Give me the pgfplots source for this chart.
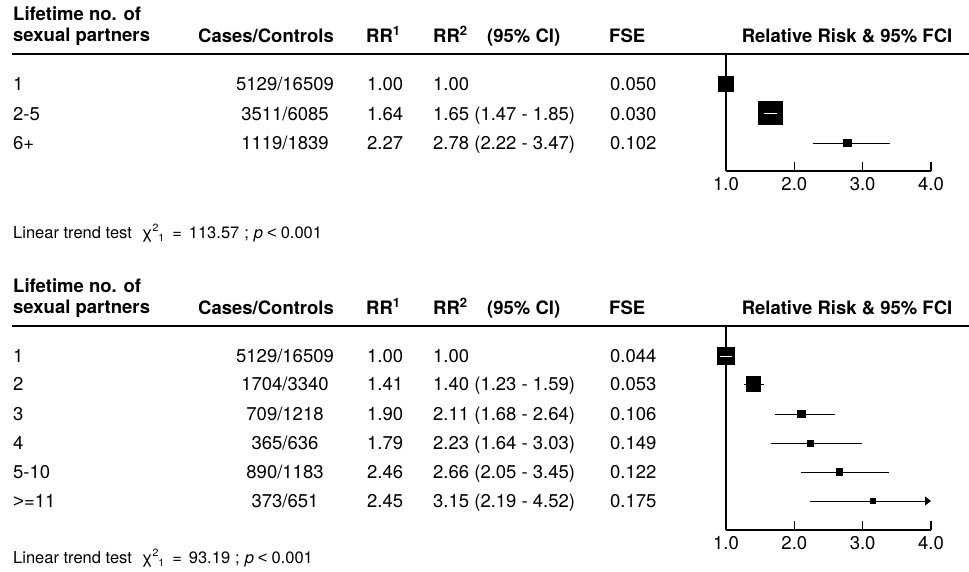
\documentclass[border=0pt]{standalone}
\usepackage{pgfplots}
\pgfplotsset{compat=1.18}
\usepackage{fontspec}
\setmainfont{TeX Gyre Heros}
\newfontfamily\lib{Liberation Sans}
\usetikzlibrary{arrows.meta}

\newcommand{\fs}{\fontsize{18.5}{22}\selectfont}
\newcommand{\ft}{\fontsize{16.5}{20}\selectfont}
\newcommand{\chisq}{χ\raisebox{6.5pt}{\fontsize{10.5}{12}\selectfont 2}\raisebox{-3pt}{\fontsize{10.5}{12}\selectfont 1}}
\newcommand{\trend}[1]{Linear trend test\hspace{10pt}\chisq\hspace{8pt}=\hspace{7pt}#1\hspace{5pt};\hspace{5pt}\textit{p}\hspace{4pt}{\lib <}\hspace{4pt}0.001}

\pgfplotsset{forest/.style={
  scale only axis, width=205pt, xmin=1, xmax=4,
  axis x line=bottom, axis y line=left,
  axis line style={-, line width=1.2pt, black},
  xtick={1,2,3,4}, xticklabels={1.0,2.0,3.0,4.0},
  ytick=\empty, tick align=inside, major tick length=9pt,
  tick style={line width=1.2pt, black},
  clip=false, axis on top, anchor=south west,
  xticklabel style={font=\fontsize{18.5}{22}\selectfont, yshift=-3pt},
  /pgf/number format/assume math mode=true},
  ci/.style={black, line width=1pt},
  wci/.style={only marks, mark=-, mark size=#1, mark options={white, line width=1pt}},
  sq/.style={only marks, mark=square*, mark size=#1, mark options={fill=black, draw=black, line width=0pt}}
}

\begin{document}
\begin{tikzpicture}
\path[use as bounding box] (0pt,0pt) rectangle (969pt,-571pt);

% ---------------- Panel 1 ----------------
\begin{scope}[every node/.style={inner sep=0pt, font=\fs}]
\node[anchor=base west, font=\fs\bfseries] at (13pt,-20pt) {Lifetime no. of};
\node[anchor=base west, font=\fs\bfseries] at (13pt,-41pt) {sexual partners};
\node[anchor=base west, font=\fs\bfseries] at (198pt,-42pt) {Cases/Controls};
\node[anchor=base west, font=\fs\bfseries] at (366pt,-42pt) {RR\textsuperscript{1}};
\node[anchor=base west, font=\fs\bfseries] at (433pt,-42pt) {RR\textsuperscript{2}};
\node[anchor=base west, font=\fs\bfseries] at (487pt,-42pt) {(95\% CI)};
\node[anchor=base west, font=\fs\bfseries] at (609pt,-42pt) {FSE};
\node[anchor=base, font=\fs\bfseries] at (847pt,-42pt) {Relative Risk \& 95\% FCI};

\node[anchor=base west] at (13pt,-90.5pt) {1};
\node[anchor=base west] at (13pt,-120pt) {2-5};
\node[anchor=base west] at (13pt,-149.5pt) {6+};
\node[anchor=base] at (285pt,-90.5pt) {5129/16509};
\node[anchor=base] at (285pt,-120pt) {3511/6085};
\node[anchor=base] at (285pt,-149.5pt) {1119/1839};
\node[anchor=base west] at (367pt,-90.5pt) {1.00};
\node[anchor=base west] at (367pt,-120pt) {1.64};
\node[anchor=base west] at (367pt,-149.5pt) {2.27};
\node[anchor=base west] at (433pt,-90.5pt) {1.00};
\node[anchor=base west] at (433pt,-120pt) {1.65 (1.47 - 1.85)};
\node[anchor=base west] at (433pt,-149.5pt) {2.78 (2.22 - 3.47)};
\node[anchor=base west] at (610pt,-90.5pt) {0.050};
\node[anchor=base west] at (610pt,-120pt) {0.030};
\node[anchor=base west] at (610pt,-149.5pt) {0.102};

\node[anchor=base west, font=\ft] at (13pt,-238pt) {\trend{113.57}};
\end{scope}
\draw[line width=1.6pt] (12pt,-54pt) -- (969pt,-54pt);

\begin{axis}[forest, height=117pt, at={(726pt,-171pt)}, ymin=-171, ymax=-54]
\addplot[ci] coordinates {(2.28,-143) (3.40,-143)};
\addplot[sq=7.5pt] coordinates {(1.00,-84)};
\addplot[sq=11.6pt] coordinates {(1.65,-113)};
\addplot[sq=3.7pt] coordinates {(2.78,-143)};
\addplot[wci=6.6pt] coordinates {(1.653,-113)};
\end{axis}

% ---------------- Panel 2 ----------------
\begin{scope}[every node/.style={inner sep=0pt, font=\fs}]
\node[anchor=base west, font=\fs\bfseries] at (13pt,-292pt) {Lifetime no. of};
\node[anchor=base west, font=\fs\bfseries] at (13pt,-313pt) {sexual partners};
\node[anchor=base west, font=\fs\bfseries] at (198pt,-314pt) {Cases/Controls};
\node[anchor=base west, font=\fs\bfseries] at (366pt,-314pt) {RR\textsuperscript{1}};
\node[anchor=base west, font=\fs\bfseries] at (433pt,-314pt) {RR\textsuperscript{2}};
\node[anchor=base west, font=\fs\bfseries] at (487pt,-314pt) {(95\% CI)};
\node[anchor=base west, font=\fs\bfseries] at (609pt,-314pt) {FSE};
\node[anchor=base, font=\fs\bfseries] at (847pt,-314pt) {Relative Risk \& 95\% FCI};

\node[anchor=base west] at (13pt,-362.5pt) {1};
\node[anchor=base west] at (13pt,-390.5pt) {2};
\node[anchor=base west] at (13pt,-420.5pt) {3};
\node[anchor=base west] at (13pt,-449.5pt) {4};
\node[anchor=base west] at (13pt,-478.5pt) {5-10};
\node[anchor=base west] at (13pt,-507.5pt) {{\lib >}=11};
\node[anchor=base] at (285pt,-362.5pt) {5129/16509};
\node[anchor=base] at (285pt,-390.5pt) {1704/3340};
\node[anchor=base] at (285pt,-420.5pt) {709/1218};
\node[anchor=base] at (285pt,-449.5pt) {365/636};
\node[anchor=base] at (285pt,-478.5pt) {890/1183};
\node[anchor=base] at (285pt,-507.5pt) {373/651};
\node[anchor=base west] at (367pt,-362.5pt) {1.00};
\node[anchor=base west] at (367pt,-390.5pt) {1.41};
\node[anchor=base west] at (367pt,-420.5pt) {1.90};
\node[anchor=base west] at (367pt,-449.5pt) {1.79};
\node[anchor=base west] at (367pt,-478.5pt) {2.46};
\node[anchor=base west] at (367pt,-507.5pt) {2.45};
\node[anchor=base west] at (433pt,-362.5pt) {1.00};
\node[anchor=base west] at (433pt,-390.5pt) {1.40 (1.23 - 1.59)};
\node[anchor=base west] at (433pt,-420.5pt) {2.11 (1.68 - 2.64)};
\node[anchor=base west] at (433pt,-449.5pt) {2.23 (1.64 - 3.03)};
\node[anchor=base west] at (433pt,-478.5pt) {2.66 (2.05 - 3.45)};
\node[anchor=base west] at (433pt,-507.5pt) {3.15 (2.19 - 4.52)};
\node[anchor=base west] at (610pt,-362.5pt) {0.044};
\node[anchor=base west] at (610pt,-390.5pt) {0.053};
\node[anchor=base west] at (610pt,-420.5pt) {0.106};
\node[anchor=base west] at (610pt,-449.5pt) {0.149};
\node[anchor=base west] at (610pt,-478.5pt) {0.122};
\node[anchor=base west] at (610pt,-507.5pt) {0.175};

\node[anchor=base west, font=\ft] at (13pt,-563pt) {\trend{93.19}};
\end{scope}
\draw[line width=1.6pt] (12pt,-326pt) -- (969pt,-326pt);

\begin{axis}[forest, height=204pt, at={(726pt,-530pt)}, ymin=-530, ymax=-326]
\addplot[ci] coordinates {(1.262,-384) (1.553,-384)};
\addplot[ci] coordinates {(1.714,-414) (2.597,-414)};
\addplot[ci] coordinates {(1.665,-443) (2.986,-443)};
\addplot[ci] coordinates {(2.095,-472) (3.378,-472)};
\addplot[ci, -{Triangle[length=6pt,width=9pt]}] coordinates {(2.235,-501) (4.0,-501)};
\addplot[sq=8.3pt] coordinates {(1.00,-356)};
\addplot[sq=7.1pt] coordinates {(1.40,-384)};
\addplot[sq=3.9pt] coordinates {(2.11,-414)};
\addplot[sq=3.0pt] coordinates {(2.23,-443)};
\addplot[sq=3.4pt] coordinates {(2.66,-472)};
\addplot[sq=2.7pt] coordinates {(3.15,-501)};
\addplot[wci=6pt] coordinates {(1.004,-356)};
\end{axis}
\end{tikzpicture}
\end{document}
